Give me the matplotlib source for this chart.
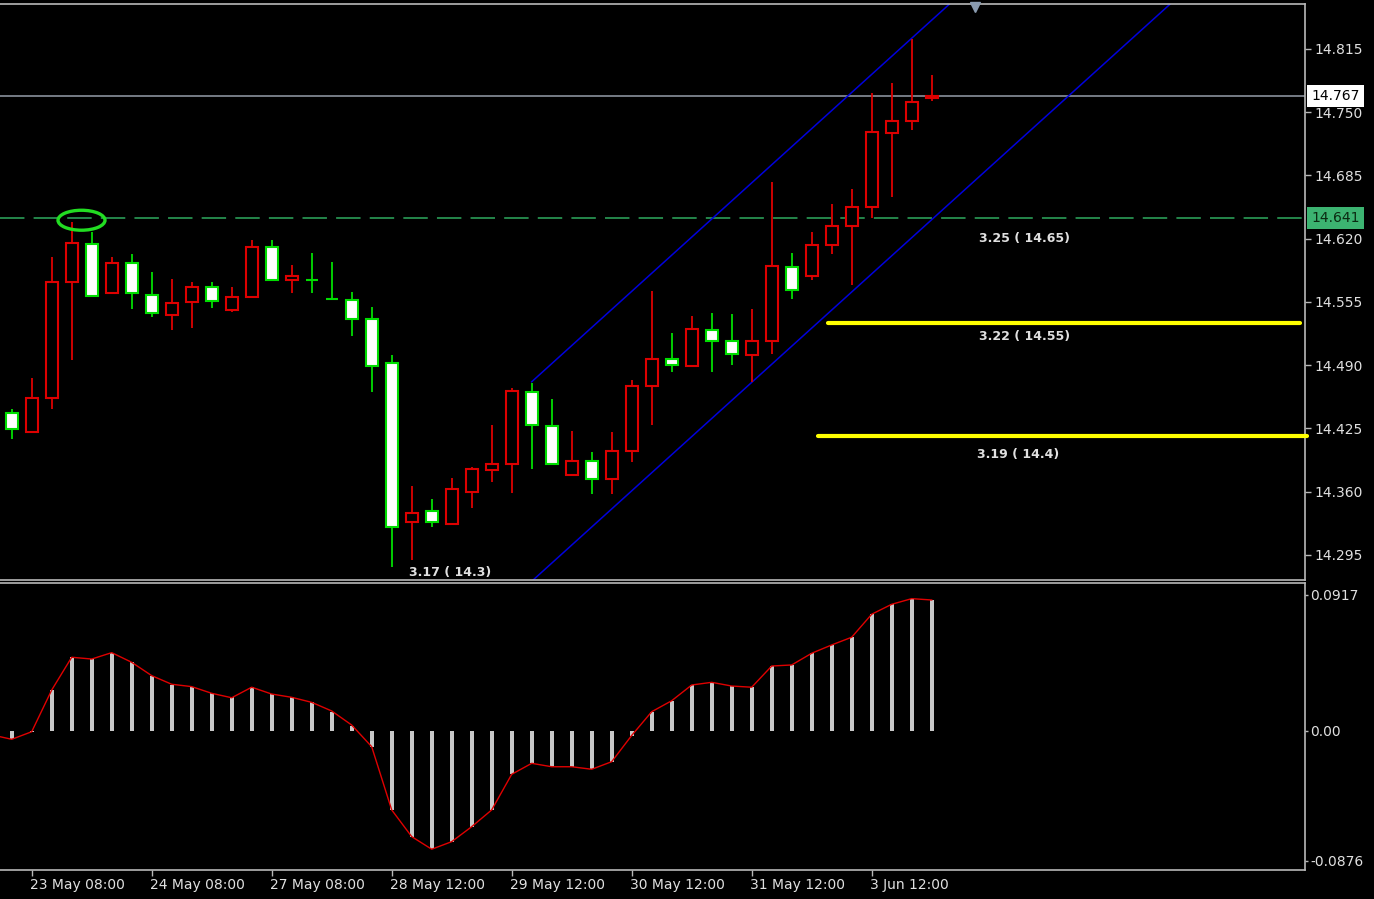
import matplotlib
matplotlib.use("Agg")
import matplotlib.pyplot as plt
import numpy as np
from matplotlib.patches import Ellipse
from matplotlib.transforms import blended_transform_factory, ScaledTranslation

# 4h candles, oldest first
opens = [14.441, 14.421, 14.456, 14.576, 14.615, 14.564, 14.595, 14.562, 14.542, 14.555,
         14.570, 14.547, 14.560, 14.611, 14.578, 14.578, 14.558, 14.557, 14.537, 14.492,
         14.329, 14.340, 14.327, 14.360, 14.382, 14.389, 14.463, 14.428, 14.377, 14.392,
         14.373, 14.402, 14.469, 14.496, 14.489, 14.526, 14.515, 14.501, 14.515, 14.591,
         14.582, 14.614, 14.633, 14.653, 14.729, 14.741, 14.765]
highs = [14.445, 14.477, 14.601, 14.637, 14.627, 14.601, 14.604, 14.586, 14.579, 14.576,
         14.576, 14.570, 14.619, 14.619, 14.593, 14.605, 14.596, 14.565, 14.550, 14.500,
         14.366, 14.353, 14.374, 14.385, 14.429, 14.467, 14.472, 14.455, 14.422, 14.401,
         14.421, 14.475, 14.566, 14.523, 14.541, 14.544, 14.543, 14.548, 14.678, 14.605,
         14.627, 14.656, 14.671, 14.770, 14.780, 14.825, 14.788]
lows = [14.414, 14.420, 14.445, 14.495, 14.560, 14.563, 14.548, 14.540, 14.526, 14.528,
        14.549, 14.545, 14.559, 14.577, 14.564, 14.564, 14.558, 14.520, 14.463, 14.283,
        14.290, 14.324, 14.327, 14.343, 14.370, 14.359, 14.383, 14.388, 14.377, 14.358,
        14.358, 14.391, 14.429, 14.483, 14.489, 14.483, 14.490, 14.473, 14.502, 14.558,
        14.578, 14.604, 14.572, 14.641, 14.663, 14.732, 14.762]
closes = [14.424, 14.456, 14.576, 14.616, 14.561, 14.595, 14.564, 14.544, 14.554, 14.570,
          14.556, 14.560, 14.611, 14.578, 14.582, 14.578, 14.558, 14.538, 14.489, 14.324,
          14.338, 14.329, 14.363, 14.383, 14.389, 14.464, 14.429, 14.388, 14.392, 14.373,
          14.402, 14.469, 14.496, 14.490, 14.527, 14.515, 14.502, 14.515, 14.592, 14.567,
          14.614, 14.633, 14.653, 14.730, 14.741, 14.761, 14.767]

# MACD histogram, one per candle
macd = [-0.0054, -0.0005, 0.0276, 0.0497, 0.0485, 0.0528, 0.0463, 0.0373, 0.0310, 0.0299,
        0.0254, 0.0227, 0.0295, 0.0249, 0.0227, 0.0193, 0.0130, 0.0036, -0.0106, -0.0532,
        -0.0712, -0.0797, -0.0746, -0.0645, -0.0532, -0.0292, -0.0218, -0.0241, -0.0241, -0.0258,
        -0.0207, -0.0034, 0.0130, 0.0204, 0.0310, 0.0326, 0.0303, 0.0295, 0.0438, 0.0445,
        0.0524, 0.0580, 0.0632, 0.0787, 0.0854, 0.0890, 0.0883]
# signal line, starts one bar before the first candle
signal = [-0.0026, -0.0056, -0.0005, 0.0276, 0.0497, 0.0485, 0.0528, 0.0463, 0.0373, 0.0315,
          0.0299, 0.0254, 0.0224, 0.0295, 0.0249, 0.0227, 0.0193, 0.0135, 0.0040, -0.0106,
          -0.0532, -0.0712, -0.0797, -0.0746, -0.0645, -0.0532, -0.0292, -0.0218, -0.0241, -0.0241,
          -0.0258, -0.0207, -0.0030, 0.0130, 0.0204, 0.0310, 0.0328, 0.0303, 0.0295, 0.0438,
          0.0445, 0.0524, 0.0580, 0.0632, 0.0787, 0.0854, 0.0892, 0.0883]

date_ticks = [1, 7, 13, 19, 25, 31, 37, 43]
date_labels = ["23 May 08:00", "24 May 08:00", "27 May 08:00", "28 May 12:00",
               "29 May 12:00", "30 May 12:00", "31 May 12:00", "3 Jun 12:00"]
price_ticks = [14.295, 14.360, 14.425, 14.490, 14.555, 14.620, 14.685, 14.750, 14.815]
macd_ticks = [-0.0876, 0.0, 0.0917]
macd_labels = ["-0.0876", "0.00", "0.0917"]

bid = 14.767
resistance = 14.641

# regression channel (ray from bar 26)
chan_start = 26
chan_upper = 14.473
chan_lower = 14.268
chan_slope = 0.01858

# yellow levels
levels = [14.533, 14.417]
level_start = [40.83, 40.33]
level_end = [64.4, 64.77]

notes = ["3.25 ( 14.65)", "3.22 ( 14.55)", "3.19 ( 14.4)", "3.17 ( 14.3)"]
note_x = [48.37, 48.37, 48.27, 19.87]
note_y = [14.620, 14.520, 14.398, 14.2765]

BULL = '#dd0000'
BEAR = '#00dd00'
FRAME = '#b8b8b8'
TXT = '#e0e0e0'

fig = plt.figure(figsize=(13.74, 8.99), dpi=100, facecolor='black')
ax = fig.add_axes([0, 1 - 580 / 899, 1305 / 1374, 576 / 899], facecolor='black')
ax2 = fig.add_axes([0, 1 - 870 / 899, 1305 / 1374, 287 / 899], facecolor='black')

xlim = (-0.585, 64.665)

# candles
x = np.arange(len(opens))
o = np.array(opens)
c = np.array(closes)
up = c > o
cols = [BULL if u else BEAR for u in up]
ax.vlines(x, lows, highs, colors=cols, lw=1.3, zorder=2)
ax.bar(x, np.abs(c - o), bottom=np.minimum(o, c), width=0.6,
       color=['black' if u else 'white' for u in up], edgecolor=cols, lw=1.5, zorder=3)

# horizontal lines
ax.axhline(bid, color='#7f8590', lw=1.3, zorder=1)
ax.axhline(resistance, color='#2eaa5e', lw=1.1, dashes=(16, 6), zorder=1)

# channel
cx = np.array([chan_start, 80])
ax.plot(cx, chan_upper + chan_slope * (cx - chan_start), color='#0000dd', lw=1.1, zorder=1)
ax.plot(cx, chan_lower + chan_slope * (cx - chan_start), color='#0000dd', lw=1.1, zorder=1)

# yellow levels
for lv, s, e in zip(levels, level_start, level_end):
    ax.plot([s, e], [lv, lv], color='#ffff00', lw=3, solid_capstyle='round', clip_on=False, zorder=4)

for t, nx, ny in zip(notes, note_x, note_y):
    ax.text(nx, ny, t, color=TXT, fontsize=9, fontweight='bold', ha='left', va='center', zorder=5)

# highlight ellipse
ax.add_patch(Ellipse((3.49, 14.639), 2.35, 0.0205, fill=False, ec='#22dd22', lw=2.4, zorder=5))

# chart shift marker
ax.plot([48.17], [14.858], marker='v', ms=7, color='#8a9bb0', clip_on=False, zorder=6)

ax.set_xlim(*xlim)
ax.set_ylim(14.2693, 14.8612)
ax.set_xticks([])
ax.yaxis.tick_right()
ax.set_yticks(price_ticks)
ax.set_yticklabels([f"{p:.3f}" for p in price_ticks])
ax.tick_params(axis='y', colors=FRAME, labelcolor=TXT, length=4, width=1, pad=3, labelsize=10)

tr = blended_transform_factory(ax.transAxes, ax.transData)
ax.text(1.0048, bid, f"{bid:.3f}", transform=tr, ha='left', va='center', fontsize=10, color='black',
        bbox=dict(boxstyle='square,pad=0.3', fc='white', ec='none'))
ax.text(1.0048, resistance, f"{resistance:.3f}", transform=tr, ha='left', va='center', fontsize=10,
        color='#0b2a12', bbox=dict(boxstyle='square,pad=0.3', fc='#3cb371', ec='none'))

# MACD panel
ax2.bar(x, macd, width=0.2, color='#c8c8c8', zorder=2)
ax2.plot(np.arange(-1, len(signal) - 1), signal, color='#e00000', lw=1, zorder=3)
ax2.set_xlim(*xlim)
ax2.set_ylim(-0.0937, 0.09975)
ax2.yaxis.tick_right()
ax2.set_yticks(macd_ticks)
ax2.set_yticklabels(macd_labels)
ax2.tick_params(axis='y', colors=FRAME, labelcolor=TXT, length=2, width=1, pad=2, labelsize=10)
ax2.set_xticks(date_ticks)
ax2.set_xticklabels(date_labels, ha='left')
ax2.tick_params(axis='x', colors=FRAME, labelcolor=TXT, length=4, width=1, pad=2, labelsize=10)
shift = ScaledTranslation(-2 / 100, 0, fig.dpi_scale_trans)
for lab in ax2.get_xticklabels():
    lab.set_transform(lab.get_transform() + shift)

for a in (ax, ax2):
    a.spines['left'].set_visible(False)
    for s in ('top', 'bottom', 'right'):
        a.spines[s].set_color(FRAME)
        a.spines[s].set_linewidth(1.2)

fig.savefig("out.png", dpi=100, facecolor='black')
